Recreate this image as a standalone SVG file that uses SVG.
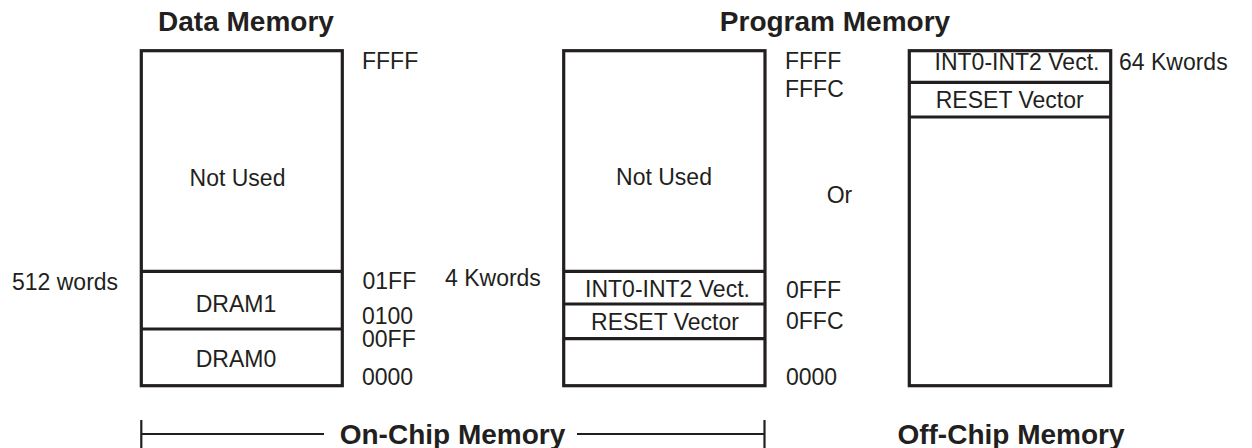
<svg xmlns="http://www.w3.org/2000/svg" width="1252" height="448" viewBox="0 0 1252 448">
<style>
text{font-family:"Liberation Sans",Arial,Helvetica,sans-serif;fill:#231f20}
.t{font-size:23px}
.h{font-size:28px;font-weight:bold;text-anchor:middle}
.m{text-anchor:middle}
.box{fill:#fff;stroke:#231f20;stroke-width:3.2}
.div{stroke:#231f20;stroke-width:3.2}
.ln{stroke:#231f20;stroke-width:2.2;fill:none}
</style>
<rect width="1252" height="448" fill="#fff"/>
<text class="h" x="246" y="31">Data Memory</text>
<text class="h" x="835" y="31">Program Memory</text>
<g id="data-memory">
<rect class="box" x="141.3" y="50.7" width="201" height="335"/>
<line class="div" x1="141.3" y1="271.3" x2="342.3" y2="271.3"/>
<line class="div" x1="141.3" y1="329" x2="342.3" y2="329"/>
<text class="t m" x="237.5" y="186">Not Used</text>
<text class="t m" x="236" y="312">DRAM1</text>
<text class="t m" x="236" y="367">DRAM0</text>
</g>
<g id="data-labels" class="t">
<text class="t" x="362" y="68.5">FFFF</text>
<text class="t" x="12" y="290">512 words</text>
<text class="t" x="362.5" y="289.3">01FF</text>
<text class="t" x="362" y="324">0100</text>
<text class="t" x="362" y="346.7">00FF</text>
<text class="t" x="362" y="385">0000</text>
</g>
<g id="program-memory">
<rect class="box" x="563.7" y="50.7" width="201.3" height="335"/>
<line class="div" x1="563.7" y1="271.3" x2="765" y2="271.3"/>
<line class="div" x1="563.7" y1="304" x2="765" y2="304"/>
<line class="div" x1="563.7" y1="338.7" x2="765" y2="338.7"/>
<text class="t m" x="664" y="185">Not Used</text>
<text class="t m" x="667.5" y="296.7">INT0-INT2 Vect.</text>
<text class="t m" x="665" y="330">RESET Vector</text>
</g>
<g id="program-labels">
<text class="t" x="785" y="68.7">FFFF</text>
<text class="t" x="785" y="96.7">FFFC</text>
<text class="t" x="445" y="286">4 Kwords</text>
<text class="t" x="786" y="298.3">0FFF</text>
<text class="t" x="786" y="329.3">0FFC</text>
<text class="t" x="786" y="385">0000</text>
<text class="t" x="826.7" y="203.3">Or</text>
</g>
<g id="offchip-memory">
<rect class="box" x="909.3" y="50.7" width="201.4" height="335"/>
<line class="div" x1="909.3" y1="82.3" x2="1110.7" y2="82.3"/>
<line class="div" x1="909.3" y1="117" x2="1110.7" y2="117"/>
<text class="t m" x="1017" y="70">INT0-INT2 Vect.</text>
<text class="t m" x="1009.7" y="108.3">RESET Vector</text>
<text class="t" x="1119" y="70">64 Kwords</text>
</g>
<g id="connectors">
<line class="ln" x1="141.3" y1="420" x2="141.3" y2="448"/>
<line class="ln" x1="141.3" y1="434" x2="324" y2="434"/>
<line class="ln" x1="577" y1="434" x2="764.5" y2="434"/>
<line class="ln" x1="764.5" y1="420" x2="764.5" y2="448"/>
</g>
<text class="h" x="452.5" y="444">On-Chip Memory</text>
<text class="h" x="1011" y="444">Off-Chip Memory</text>
</svg>
